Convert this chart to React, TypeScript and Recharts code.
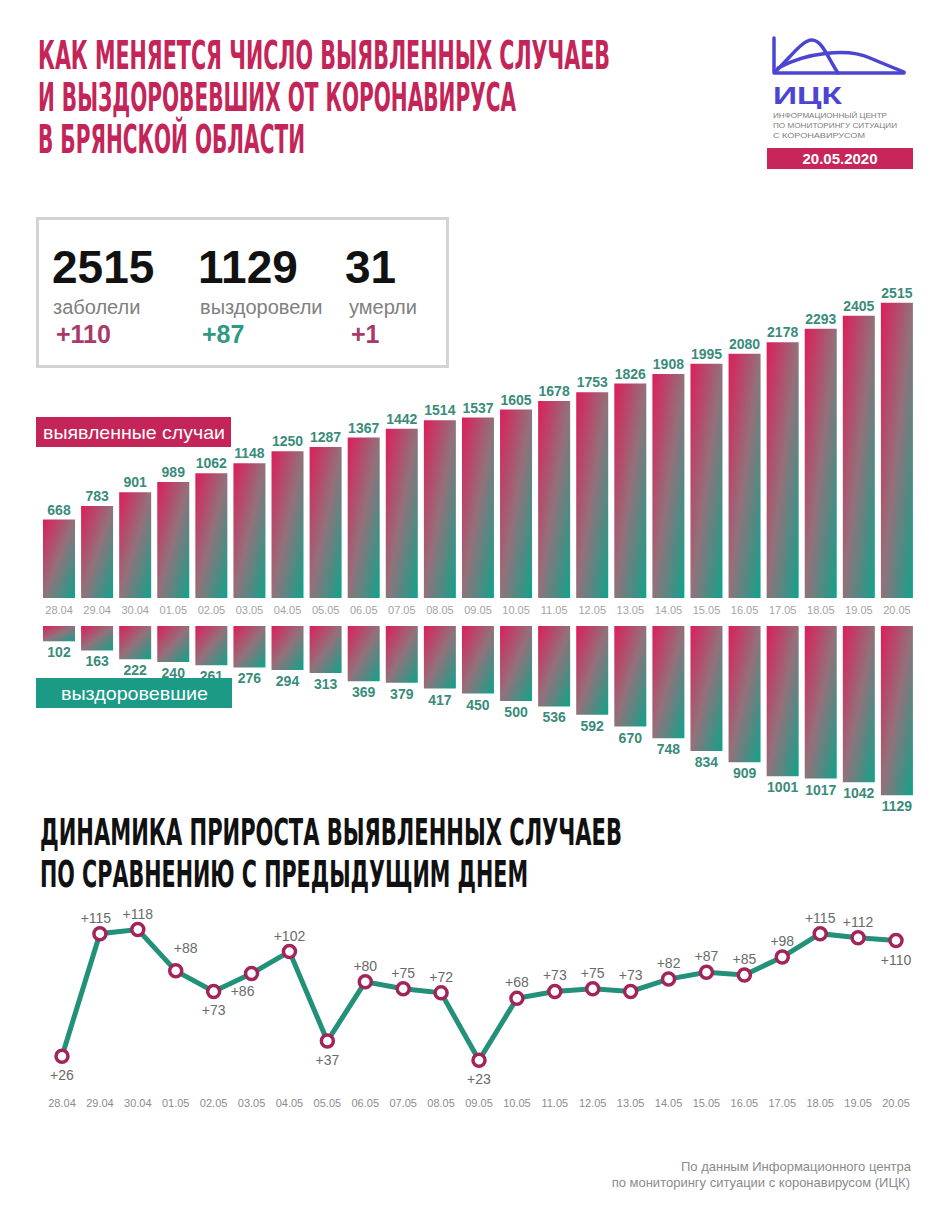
import React from 'react';
import { BarChart, Bar, XAxis, YAxis, LabelList, LineChart, Line } from 'recharts';

const dates = ['28.04', '29.04', '30.04', '01.05', '02.05', '03.05', '04.05', '05.05', '06.05', '07.05', '08.05', '09.05', '10.05', '11.05', '12.05', '13.05', '14.05', '15.05', '16.05', '17.05', '18.05', '19.05', '20.05'];
const cases = [668, 783, 901, 989, 1062, 1148, 1250, 1287, 1367, 1442, 1514, 1537, 1605, 1678, 1753, 1826, 1908, 1995, 2080, 2178, 2293, 2405, 2515];
const recovered = [102, 163, 222, 240, 261, 276, 294, 313, 369, 379, 417, 450, 500, 536, 592, 670, 748, 834, 909, 1001, 1017, 1042, 1129];
const increments = [26, 115, 118, 88, 73, 86, 102, 37, 80, 75, 72, 23, 68, 73, 75, 73, 82, 87, 85, 98, 115, 112, 110];
const labelPlacement = ['bottom', 'topLeft', 'top', 'topRight', 'bottom', 'bottomLeft', 'top', 'bottom', 'top', 'top', 'top', 'bottom', 'top', 'top', 'top', 'top', 'top', 'top', 'top', 'top', 'top', 'top', 'bottom'];

const totals = { cases: '2515', recovered: '1129', deaths: '31' };
const deltas = { cases: '+110', recovered: '+87', deaths: '+1' };

const caseData = dates.map((d, i) => ({ date: d, cases: cases[i] }));
const recData = dates.map((d, i) => ({ date: d, recovered: recovered[i] }));
const incData = dates.map((d, i) => ({ date: d, inc: increments[i] }));

const SANS = "'Liberation Sans', Arial, Helvetica, sans-serif";
const COND = "'DejaVu Sans Condensed', 'Liberation Sans Narrow', 'Liberation Sans', sans-serif";
const CRIMSON = '#c42558';
const TEAL = '#1b9a86';
const LOGO = '#4b45d1';

const Grad = ({ id }: { id: string }) => (
  <linearGradient id={id} x1="0" y1="0" x2="1" y2="1">
    <stop offset="0%" stopColor="#dc1e5a" />
    <stop offset="50%" stopColor="#93717b" />
    <stop offset="100%" stopColor="#0fa38b" />
  </linearGradient>
);

const makeTick = (dy: number, color: string) => (props: any) => {
  const { x, y, payload } = props;
  return (
    <text x={x} y={y + dy} textAnchor="middle" fontSize={11} fill={color} fontFamily={SANS}>
      {payload.value}
    </text>
  );
};

const UpLabel = (props: any) => {
  const { x, y, width, height, value } = props;
  const top = Math.min(y, y + height);
  return (
    <text x={x + width / 2} y={top - 5} textAnchor="middle" fontSize={14} fontWeight="bold" fill="#3a8b7b" fontFamily={SANS}>
      {value}
    </text>
  );
};

const DownLabel = (props: any) => {
  const { x, y, width, height, value } = props;
  const bottom = Math.max(y, y + height);
  return (
    <text x={x + width / 2} y={bottom + 16} textAnchor="middle" fontSize={14} fontWeight="bold" fill="#3a8b7b" fontFamily={SANS}>
      {value}
    </text>
  );
};

const renderDot = (p: any) => {
  const { cx, cy, index, payload } = p;
  const pl = labelPlacement[index];
  let dx = 0;
  let dy = -11;
  if (pl === 'bottom') dy = 24;
  if (pl === 'topLeft') dx = -4;
  if (pl === 'topRight') { dx = 10; dy = -18; }
  if (pl === 'bottomLeft') { dx = -9; dy = 22; }
  return (
    <g key={`dot-${index}`}>
      <circle cx={cx} cy={cy} r={6} fill="#ffffff" stroke="#a2245b" strokeWidth={3.5} />
      <text x={cx + dx} y={cy + dy} textAnchor="middle" fontSize={14} fill="#6a6a6a" fontFamily={SANS}>
        +{payload.inc}
      </text>
    </g>
  );
};

export default function App() {
  return (
    <div style={{ position: 'absolute', left: 0, top: 0, width: 950, height: 1226, background: '#ffffff', fontFamily: SANS, overflow: 'hidden' }}>
      <svg width={950} height={1226} style={{ position: 'absolute', left: 0, top: 0 }}>
        {/* Title */}
        <g fontFamily={COND} fontWeight="bold" fontSize={39} fill={CRIMSON}>
          <text x={38} y={69} textLength={572} lengthAdjust="spacingAndGlyphs">КАК МЕНЯЕТСЯ ЧИСЛО ВЫЯВЛЕННЫХ СЛУЧАЕВ</text>
          <text x={38} y={111} textLength={478} lengthAdjust="spacingAndGlyphs">И ВЫЗДОРОВЕВШИХ ОТ КОРОНАВИРУСА</text>
          <text x={38} y={153} textLength={267} lengthAdjust="spacingAndGlyphs">В БРЯНСКОЙ ОБЛАСТИ</text>
        </g>

        {/* Logo */}
        <g fill="none" stroke={LOGO} strokeWidth={3.5} strokeLinecap="round" strokeLinejoin="round">
          <path d="M774 38 V73 H904" />
          <path d="M775 72 C790 58 802 40 812 40 C822 40 828 58 838 73" />
          <path d="M778 68 C808 52 848 48 870 58 C884 64 894 68 904 72" />
        </g>
        <text x={773} y={104} fontFamily={SANS} fontWeight="bold" fontSize={23} fill={LOGO} textLength={69} lengthAdjust="spacingAndGlyphs">ИЦК</text>
        <g fontFamily={SANS} fontSize={7.5} fill="#7d7d7d">
          <text x={773} y={118} textLength={114} lengthAdjust="spacingAndGlyphs">ИНФОРМАЦИОННЫЙ ЦЕНТР</text>
          <text x={773} y={128} textLength={124} lengthAdjust="spacingAndGlyphs">ПО МОНИТОРИНГУ СИТУАЦИИ</text>
          <text x={773} y={138} textLength={92} lengthAdjust="spacingAndGlyphs">С КОРОНАВИРУСОМ</text>
        </g>
        <rect x={767} y={148} width={146} height={21} fill="#c8255a" />
        <text x={840} y={164} textAnchor="middle" fontFamily={SANS} fontWeight="bold" fontSize={15} fill="#ffffff">20.05.2020</text>

        {/* Stats box */}
        <rect x={37.5} y={218.5} width={410} height={148} fill="#ffffff" stroke="#d3d3d3" strokeWidth={3} />
        <g fontFamily={SANS} fontWeight="bold" fontSize={46} fill="#111111">
          <text x={52} y={283}>{totals.cases}</text>
          <text x={198} y={283}>{totals.recovered}</text>
          <text x={345} y={283}>{totals.deaths}</text>
        </g>
        <g fontFamily={SANS} fontSize={20} fill="#808080">
          <text x={53} y={314}>заболели</text>
          <text x={200} y={314}>выздоровели</text>
          <text x={349} y={314}>умерли</text>
        </g>
        <g fontFamily={SANS} fontWeight="bold" fontSize={25}>
          <text x={56} y={343} fill="#a83a6a">{deltas.cases}</text>
          <text x={202} y={343} fill="#2f9a84">{deltas.recovered}</text>
          <text x={351} y={343} fill="#a83a6a">{deltas.deaths}</text>
        </g>

        {/* Second title */}
        <g fontFamily={COND} fontWeight="bold" fontSize={38} fill="#111111">
          <text x={40} y={845} textLength={582} lengthAdjust="spacingAndGlyphs">ДИНАМИКА ПРИРОСТА ВЫЯВЛЕННЫХ СЛУЧАЕВ</text>
          <text x={40} y={887} textLength={488} lengthAdjust="spacingAndGlyphs">ПО СРАВНЕНИЮ С ПРЕДЫДУЩИМ ДНЕМ</text>
        </g>

        {/* Footer */}
        <g fontFamily={SANS} fontSize={13} fill="#8a8a8a" textAnchor="end">
          <text x={911} y={1171}>По данным Информационного центра</text>
          <text x={910} y={1187}>по мониторингу ситуации с коронавирусом (ИЦК)</text>
        </g>
      </svg>

      {/* Detected cases bars */}
      <div style={{ position: 'absolute', left: 0, top: 260 }}>
        <BarChart width={950} height={358} data={caseData} margin={{ top: 21, right: 34, bottom: 0, left: 40 }}>
          <defs>
            <Grad id="gradUp" />
          </defs>
          <XAxis dataKey="date" axisLine={false} tickLine={false} tickSize={0} tickMargin={0} height={20} interval={0} tick={makeTick(16, '#a3a3a3')} />
          <YAxis hide domain={[0, 2700]} />
          <Bar dataKey="cases" fill="url(#gradUp)" barSize={32} isAnimationActive={false}>
            <LabelList dataKey="cases" content={UpLabel} />
          </Bar>
        </BarChart>
      </div>

      {/* Recovered bars */}
      <div style={{ position: 'absolute', left: 0, top: 626 }}>
        <BarChart width={950} height={210} data={recData} margin={{ top: 0, right: 34, bottom: 30, left: 40 }}>
          <defs>
            <Grad id="gradDown" />
          </defs>
          <XAxis dataKey="date" hide />
          <YAxis hide reversed domain={[0, 1200]} />
          <Bar dataKey="recovered" fill="url(#gradDown)" barSize={32} isAnimationActive={false}>
            <LabelList dataKey="recovered" content={DownLabel} />
          </Bar>
        </BarChart>
      </div>

      {/* Daily increments line */}
      <div style={{ position: 'absolute', left: 0, top: 880 }}>
        <LineChart width={950} height={242} data={incData} margin={{ top: 33, right: 54, bottom: 0, left: 62 }}>
          <XAxis dataKey="date" axisLine={false} tickLine={false} tickSize={0} tickMargin={0} height={30} interval={0} tick={makeTick(15, '#8c8c8c')} />
          <YAxis hide domain={[0, 130]} />
          <Line dataKey="inc" stroke="#23907a" strokeWidth={5} dot={renderDot} activeDot={false} isAnimationActive={false} />
        </LineChart>
      </div>

      {/* Legend tags */}
      <svg width={950} height={1226} style={{ position: 'absolute', left: 0, top: 0, pointerEvents: 'none' }}>
        <rect x={36} y={417} width={195} height={30} fill={CRIMSON} />
        <text x={43} y={439} fontFamily={SANS} fontSize={19} fill="#ffffff" textLength={182} lengthAdjust="spacingAndGlyphs">выявленные случаи</text>
        <rect x={36} y={678} width={196} height={30} fill={TEAL} />
        <text x={61} y={700} fontFamily={SANS} fontSize={19} fill="#ffffff" textLength={147} lengthAdjust="spacingAndGlyphs">выздоровевшие</text>
      </svg>
    </div>
  );
}
